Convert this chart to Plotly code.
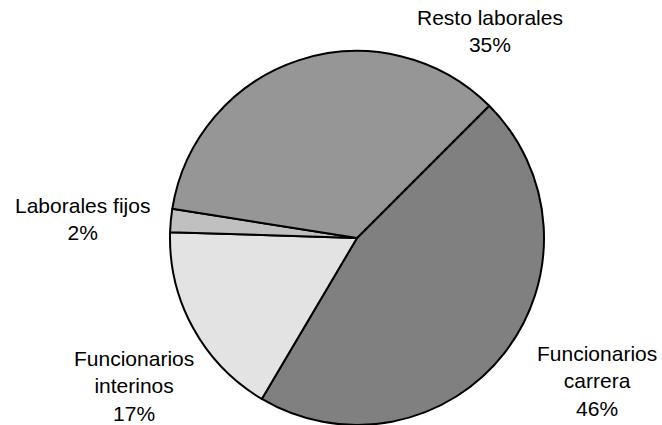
import plotly.graph_objects as go

categories = ["Funcionarios carrera", "Funcionarios interinos", "Laborales fijos", "Resto laborales"]
label_text = ["Funcionarios<br>carrera", "Funcionarios<br>interinos", "Laborales fijos", "Resto laborales"]
values = [46, 17, 2, 35]
colors = ["#808080", "#e3e3e3", "#c0c0c0", "#969696"]

W, H = 662, 425
fig = go.Figure(go.Pie(
    labels=categories,
    values=values,
    sort=False,
    direction="clockwise",
    rotation=45,
    marker=dict(colors=colors, line=dict(color="#000000", width=2)),
    textinfo="none",
    hoverinfo="label+percent",
    showlegend=False,
    domain=dict(x=[170 / W, 544 / W], y=[0, 374 / H]),
))

# label anchor positions (pixels) for each category's text block
label_pos = [(597, 381), (134, 386), (82, 219), (490, 31)]
total = sum(values)
for txt, v, (px, py) in zip(label_text, values, label_pos):
    fig.add_annotation(
        x=px / W, y=1 - py / H, xref="paper", yref="paper",
        text=f"{txt}<br>{round(100 * v / total)}%",
        showarrow=False, xanchor="center", yanchor="middle",
        font=dict(family="Liberation Sans, Arial, sans-serif", size=21, color="#000000"),
        align="center",
    )

fig.update_layout(
    width=W, height=H,
    margin=dict(l=0, r=0, t=0, b=0),
    paper_bgcolor="#ffffff",
    plot_bgcolor="#ffffff",
)
fig.write_html(
    "out.html",
    config={"displayModeBar": False},
    post_script="document.body.style.margin='0';document.body.style.overflow='hidden';",
)
